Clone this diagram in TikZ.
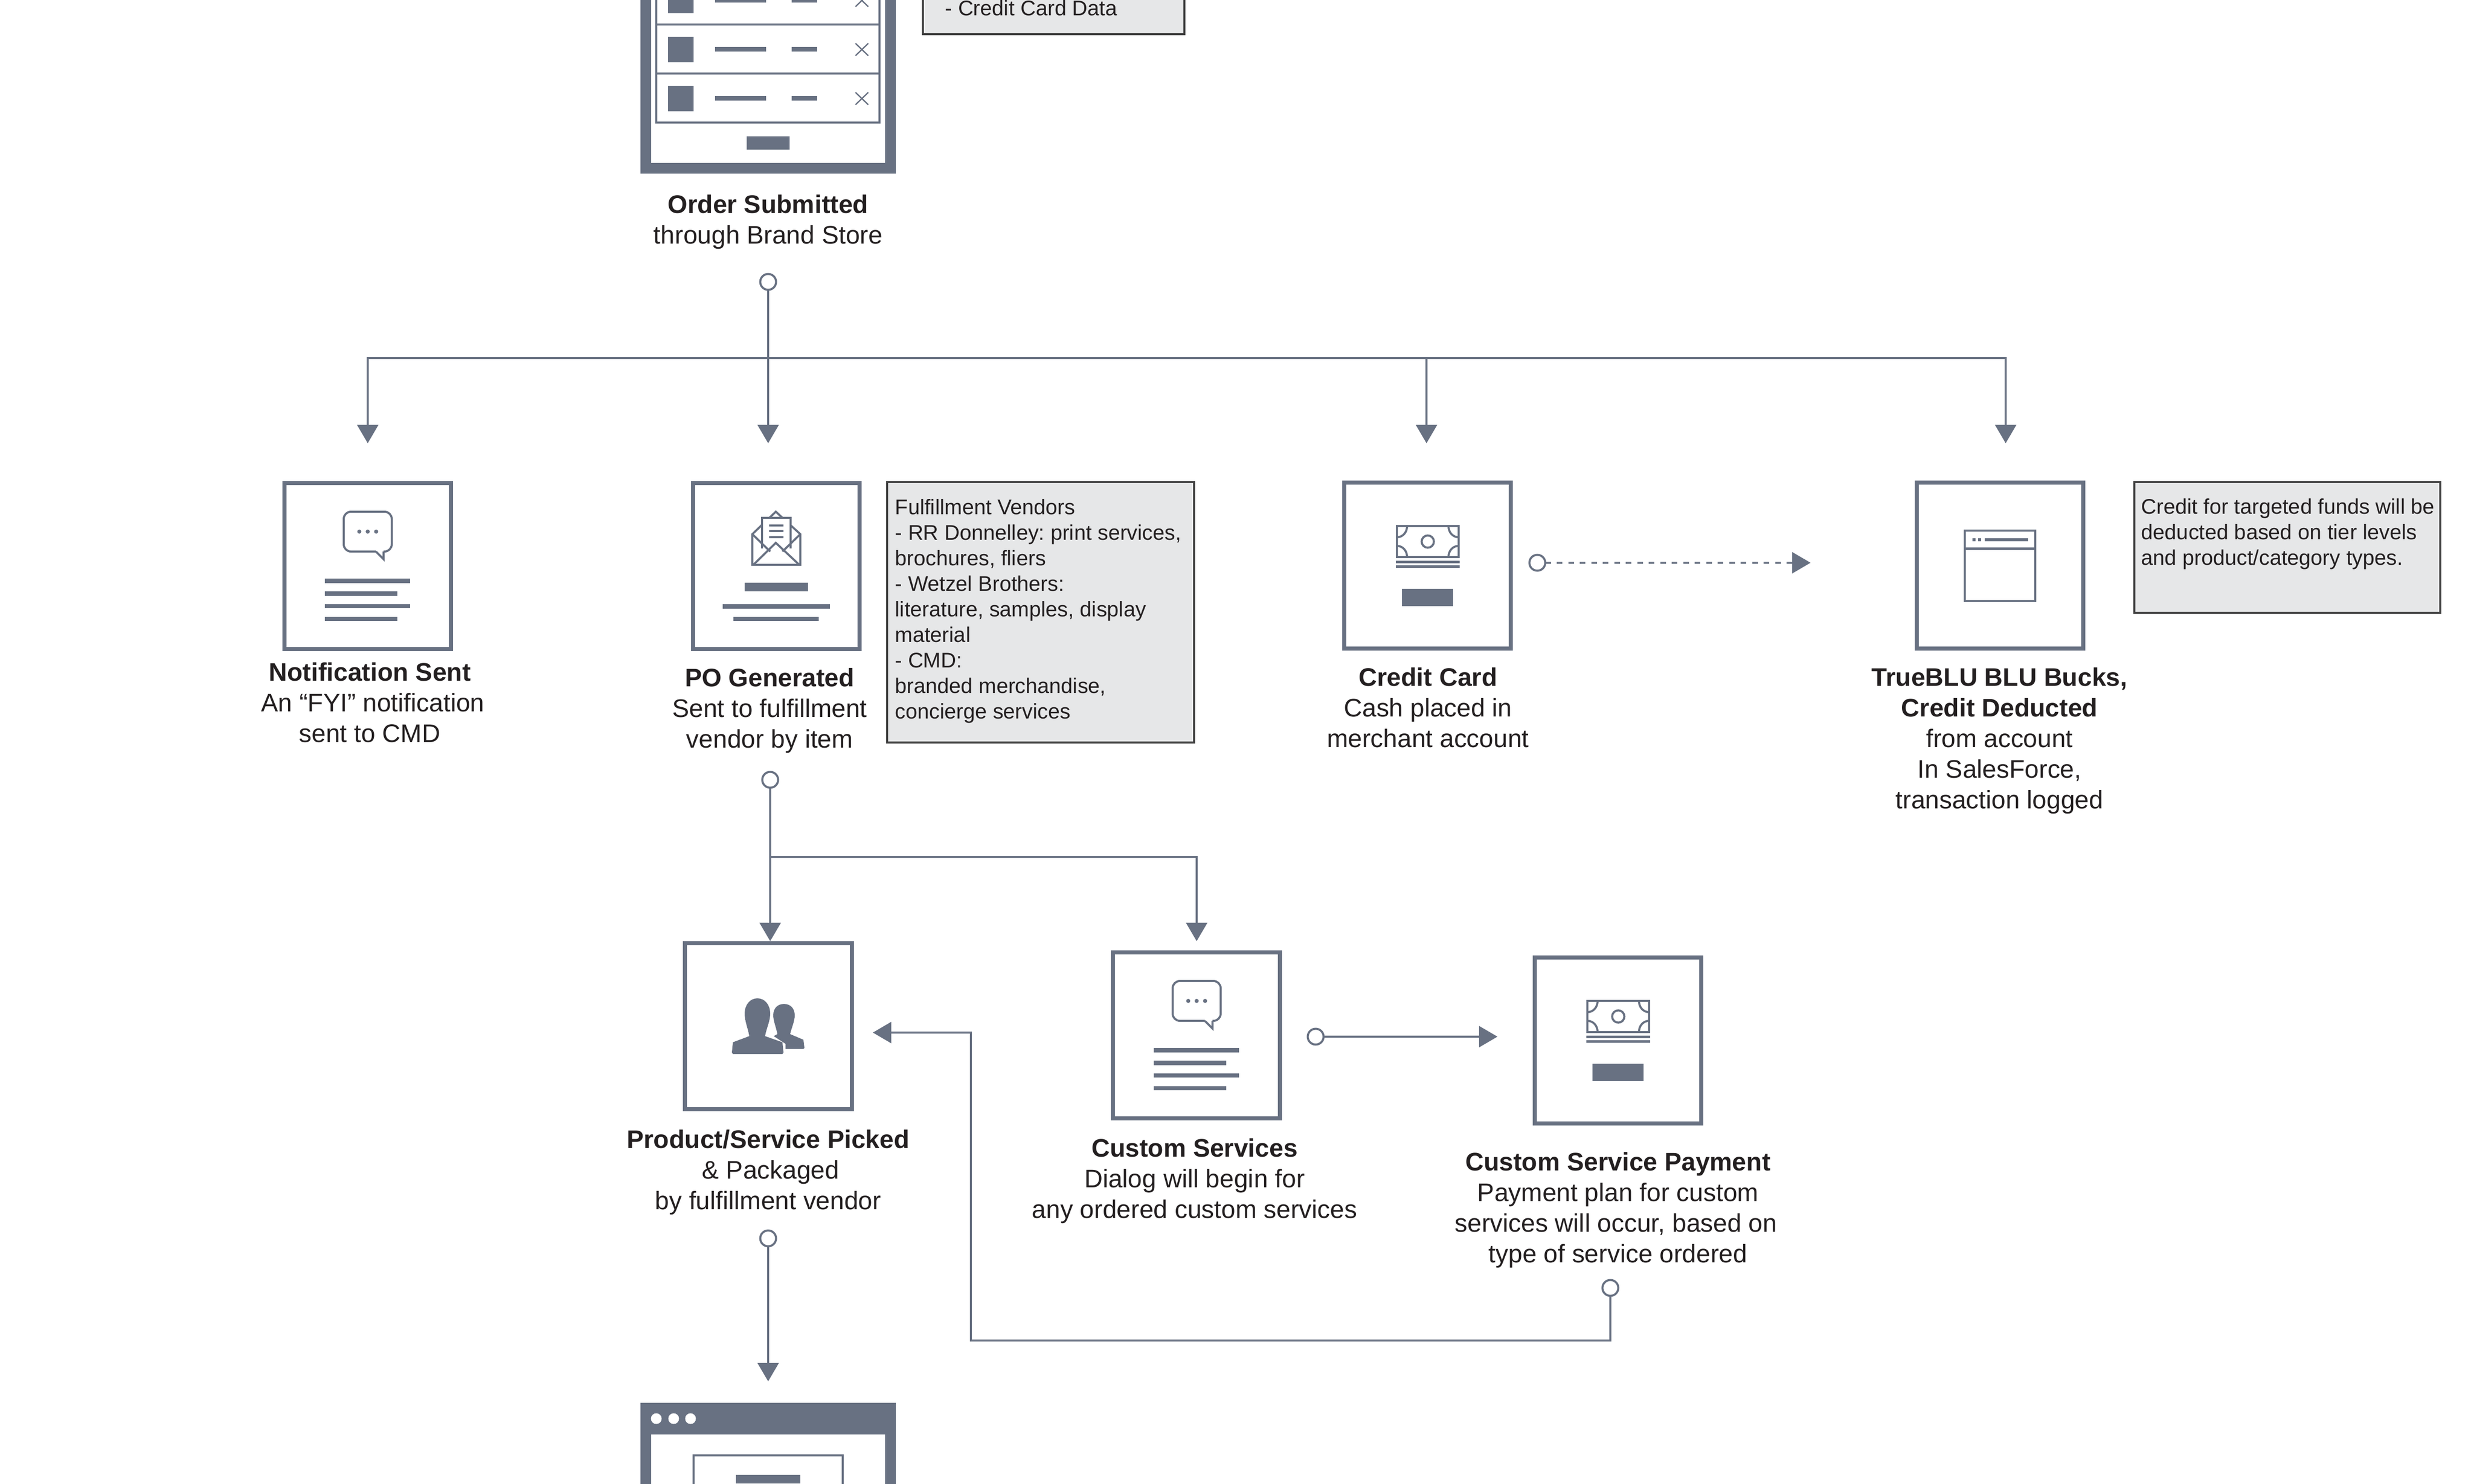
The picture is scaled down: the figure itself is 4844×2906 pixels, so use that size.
\documentclass[tikz,border=0pt]{standalone}
\usepackage{fontspec}
\setmainfont{Liberation Sans}
\frenchspacing
\usetikzlibrary{arrows.meta}
\definecolor{slate}{HTML}{687182}
\definecolor{ink}{HTML}{231F20}
\definecolor{notefill}{HTML}{E6E7E8}
\definecolor{noteline}{HTML}{404040}
\tikzset{
  stepbox/.style={draw=slate,line width=0.08cm,fill=white,minimum width=3.26cm,minimum height=3.25cm,inner sep=0pt,outer sep=0pt},
  thickbox/.style={draw=slate,line width=0.21cm,fill=white,inner sep=0pt,outer sep=0pt},
  notebox/.style={draw=noteline,line width=0.04cm,fill=notefill,inner sep=0pt,outer sep=0pt},
  lab/.style={anchor=north,yshift=10.1pt,align=center,inner sep=0pt,text=ink,font=\fontsize{14.15}{17.05}\selectfont,execute at begin node={\rule{0pt}{12pt}}},
  notetext/.style={anchor=north west,yshift=8.8pt,align=left,inner sep=0pt,text=ink,font=\fontsize{11.8}{14.22}\selectfont,execute at begin node={\rule{0pt}{11pt}}},
  hub/.style={circle,draw=slate,line width=0.04cm,fill=white,minimum size=0.31cm,inner sep=0pt,outer sep=0pt},
  conn/.style={draw=slate,line width=0.04cm},
  arr/.style={conn,-{Triangle[length=0.36cm,width=0.41cm]}},
  iconline/.style={draw=slate,line width=0.04cm},
}
\newcommand{\mybar}[4]{\fill[slate] (#1,#2) rectangle (#3,#4);}
\newcommand{\moneyicon}[2]{%
  \begin{scope}[shift={(#1,#2)}]
    \draw[iconline] (106,89) rectangle (227,150);
    \draw[iconline] (106,111) .. controls (118,111) and (126,101) .. (126,89);
    \draw[iconline] (227,111) .. controls (215,111) and (207,101) .. (207,89);
    \draw[iconline] (106,128) .. controls (118,128) and (126,138) .. (126,150);
    \draw[iconline] (227,128) .. controls (215,128) and (207,138) .. (207,150);
    \draw[iconline] (166.5,119.5) circle[radius=0.12cm];
    \mybar{104}{157}{229}{162}
    \mybar{104}{166}{229}{171}
    \mybar{116}{212}{216}{246}
  \end{scope}}
\newcommand{\chaticon}[2]{%
  \begin{scope}[shift={(#1,#2)}]
    \draw[iconline,rounded corners=4] (183,138) -- (120,138) -- (120,60) -- (214,60) -- (214,138) -- (198,138);
    \draw[iconline] (183,138) -- (198,153) -- (198,138);
    \fill[slate] (150.5,99) circle[radius=0.04cm];
    \fill[slate] (167,99) circle[radius=0.04cm];
    \fill[slate] (183.5,99) circle[radius=0.04cm];
    \mybar{83}{191}{250}{200}
    \mybar{83}{216}{225}{225}
    \mybar{83}{241}{250}{249}
    \mybar{83}{266}{225}{274}
  \end{scope}}
\begin{document}
\begin{tikzpicture}[x=0.01cm,y=-0.01cm]
\clip (0,0) rectangle (4844,2906);
\fill[white] (0,0) rectangle (4844,2906);

% Order submitted
\node[thickbox,minimum width=4.79cm,minimum height=4.295cm] (order) at (1504,114.75) {};
\foreach \ya/\yb in {-48/48,48/144,144/240}{\draw[conn] (1285,\ya) rectangle (1722,\yb);}
\foreach \c in {1,97,193}{
  \mybar{1308}{\c-25}{1358}{\c+25}
  \mybar{1400}{\c-5}{1500}{\c+4}
  \mybar{1550}{\c-5}{1600}{\c+4}
  \draw[slate,line width=0.025cm] (1675,\c-12) -- (1700,\c+12) (1700,\c-12) -- (1675,\c+12);
}
\mybar{1462}{267}{1546}{293}
\node[lab] (orderlab) at (1504,416) {\textbf{Order Submitted}\\through Brand Store};

\node[notebox,minimum width=5.12cm,minimum height=2cm] (notedata) at (2063,-33) {};
\node[notetext,yshift=2.5pt] (notedatatext) at (1850,31) {- Credit Card Data};

% First row
\node[stepbox] (notify) at (720,1108.5) {};
\node[stepbox] (po) at (1520,1108.5) {};
\node[stepbox] (card) at (2795,1107.5) {};
\node[stepbox] (blu) at (3916,1107.5) {};

\chaticon{553}{942}
\mybar{1458}{1141}{1582}{1158}
\mybar{1415}{1183}{1625}{1192}
\mybar{1436}{1208}{1603}{1216}
% envelope
\draw[iconline,line join=miter] (1519,1002) -- (1473,1046) -- (1473,1106) -- (1567,1106) -- (1567,1046) -- cycle;
\draw[iconline,fill=white] (1492,1074) -- (1492,1014) -- (1548,1014) -- (1548,1074);
\mybar{1506}{1027}{1534}{1031}
\mybar{1506}{1038}{1534}{1042}
\mybar{1506}{1050}{1534}{1054}
\draw[iconline] (1473,1046) -- (1508,1080);
\draw[iconline] (1567,1046) -- (1532,1080);
\draw[iconline] (1475,1106) -- (1519,1063) -- (1565,1106);

\moneyicon{2629}{941}
% window icon
\draw[iconline,line width=0.045cm] (3847,1039) rectangle (3985,1177);
\mybar{3845}{1072}{3987}{1077}
\mybar{3886}{1054}{3971}{1060}
\mybar{3862}{1054}{3868}{1060}
\mybar{3873}{1054}{3879}{1060}

\node[notebox,minimum width=6.01cm,minimum height=5.1cm] (notevendors) at (2037.5,1199) {};
\node[notetext] (notevendorstext) at (1752,1008) {Fulfillment Vendors\\- RR Donnelley: print services,\\brochures, fliers\\- Wetzel Brothers:\\literature, samples, display\\material\\- CMD:\\branded merchandise,\\concierge services};
\node[notebox,minimum width=5.99cm,minimum height=2.56cm] (notecredit) at (4478.5,1072) {};
\node[notetext] (notecredittext) at (4192,1007) {Credit for targeted funds will be\\deducted based on tier levels\\and product/category types.};

\node[lab] (notifylab) at (724,1332) {\textbf{Notification Sent}\\\hspace*{0.12cm}An “FYI” notification\\sent to CMD};
\node[lab] (polab) at (1507,1343) {\textbf{PO Generated}\\Sent to fulfillment\\vendor by item};
\node[lab] (cardlab) at (2796,1342) {\textbf{Credit Card}\\Cash placed in\\merchant account};
\node[lab] (blulab) at (3915,1342) {\textbf{TrueBLU BLU Bucks,}\\\textbf{Credit Deducted}\\from account\\In SalesForce,\\transaction logged};

% Second row
\node[stepbox] (picked) at (1504.5,2009.5) {};
\node[stepbox] (custom) at (2342.5,2027.5) {};
\node[stepbox] (pay) at (3168,2037.5) {};

\fill[slate] (1467,2029) .. controls (1465,2015) and (1458,2000) .. (1458,1985)
  .. controls (1458,1968) and (1468,1955) .. (1483,1955)
  .. controls (1498,1955) and (1508,1968) .. (1508,1985)
  .. controls (1508,2000) and (1500,2015) .. (1498,2029)
  -- (1532,2041) -- (1534,2061) -- (1532,2064) -- (1435,2064) -- (1433,2061) -- (1435,2041) -- cycle;
\fill[slate] (1522,2025) .. controls (1520,2012) and (1514,2000) .. (1514,1988)
  .. controls (1514,1975) and (1522,1966) .. (1535,1966)
  .. controls (1548,1966) and (1556,1975) .. (1556,1988)
  .. controls (1556,2000) and (1550,2012) .. (1547,2025)
  -- (1573,2036) -- (1575,2052) -- (1573,2054) -- (1538,2054) -- (1538,2044) -- (1515,2029) -- cycle;
\chaticon{2176}{1861}
\moneyicon{3002}{1871}

\node[lab] (pickedlab) at (1504,2247) {\textbf{Product/Service Picked}\\\hspace*{0.1cm}\& Packaged\\by fulfillment vendor};
\node[lab] (customlab) at (2339,2264) {\textbf{Custom Services}\\Dialog will begin for\\any ordered custom services};
\node[lab] (paylab) at (3168,2291) {\textbf{Custom Service Payment}\\Payment plan for custom\\\hspace*{-0.08cm}services will occur, based on\\type of service ordered};

% Bottom window
\node[thickbox,minimum width=4.79cm,minimum height=3.43cm] (report) at (1504,2929) {};
\fill[slate] (1254,2747) rectangle (1754,2809);
\foreach \x in {1285,1319,1352}{\fill[white] (\x,2778) circle[radius=0.105cm];}
\draw[conn] (1358,3000) -- (1358,2850) -- (1650,2850) -- (1650,3000);
\mybar{1441}{2888}{1567}{2905}

% Connector hubs and ends
\node[hub] (h1) at (1504,552) {};
\node[hub] (h2) at (1508,1527) {};
\node[hub] (h3) at (3010,1102) {};
\node[hub] (h4) at (2576,2030) {};
\node[hub] (h5) at (1504,2425) {};
\node[hub] (h6) at (3153,2522) {};
\coordinate (j1) at (1504,701);
\coordinate (a1) at (720,868);
\coordinate (a2) at (1504,868);
\coordinate (a3) at (2793,868);
\coordinate (a4) at (3927,868);
\coordinate (a5) at (3545,1102);
\coordinate (j2) at (1508,1678);
\coordinate (a6) at (1508,1843);
\coordinate (a7) at (2343,1843);
\coordinate (a8) at (2932,2030);
\coordinate (a9) at (1504,2705);
\coordinate (t1) at (3153,2625);
\coordinate (t2) at (1901,2625);
\coordinate (t3) at (1901,2022);
\coordinate (a10) at (1709,2022);

\draw[arr] (h1) -- (a2);
\draw[arr] (j1) -| (a1);
\draw[arr] (j1) -| (a3);
\draw[arr] (j1) -| (a4);
\draw[arr,dash pattern=on 0.11cm off 0.115cm] (h3) -- (a5);
\draw[arr] (h2) -- (a6);
\draw[arr] (j2) -| (a7);
\draw[arr] (h4) -- (a8);
\draw[arr] (h5) -- (a9);
\draw[arr] (h6) -- (t1) -- (t2) -- (t3) -- (a10);
\end{tikzpicture}
\end{document}
